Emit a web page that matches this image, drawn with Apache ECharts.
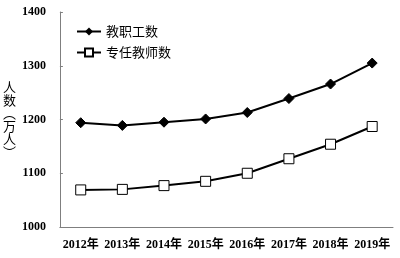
<!DOCTYPE html>
<html>
<head>
<meta charset="utf-8">
<script src="https://cdn.jsdelivr.net/npm/echarts@6/dist/echarts.min.js"></script>
<style>html,body{margin:0;padding:0;background:#fff;}#c{width:400px;height:258px;}</style>
</head>
<body>
<div id="c"></div>
<script>
var categories = ['2012年','2013年','2014年','2015年','2016年','2017年','2018年','2019年'];
var staff = [1194, 1189, 1195, 1201, 1213, 1239, 1266, 1305];
var teachers = [1069, 1070, 1077, 1085, 1100, 1127, 1154, 1187];
var seriesNames = ['教职工数', '专任教师数'];
var yTicks = {min: 1000, max: 1400, interval: 100};
var yName = '人\n数\n︵\n万\n人\n︶';

var serif = '"Liberation Serif","Noto Sans CJK SC",serif';
var chart = echarts.init(document.getElementById('c'), null, {renderer: 'canvas'});
chart.setOption({
  animation: false,
  backgroundColor: '#fff',
  grid: {left: 54, right: 7, top: 12, bottom: 31},
  legend: {
    orient: 'vertical', left: 71, top: 20, itemGap: 8,
    itemWidth: 24, itemHeight: 10,
    textStyle: {fontFamily: '"Noto Sans CJK SC",sans-serif', fontSize: 13, color: '#000'},
    data: seriesNames
  },
  xAxis: {
    type: 'category', data: categories, boundaryGap: true,
    axisLine: {lineStyle: {color: '#7f7f7f', width: 1}},
    axisTick: {inside: true, length: 4, lineStyle: {color: '#7f7f7f'}},
    axisLabel: {interval: 0, fontFamily: serif, fontWeight: 'bold', fontSize: 12, color: '#000', margin: 12}
  },
  yAxis: {
    type: 'value', min: yTicks.min, max: yTicks.max, interval: yTicks.interval,
    name: yName, nameLocation: 'middle', nameRotate: 0, nameGap: 35,
    nameTextStyle: {fontFamily: '"Noto Sans CJK SC",sans-serif', fontSize: 13, color: '#000', lineHeight: 13},
    axisLine: {show: true, lineStyle: {color: '#7f7f7f', width: 1}},
    axisTick: {show: true, inside: true, length: 3, lineStyle: {color: '#7f7f7f'}},
    splitLine: {show: false},
    axisLabel: {formatter: function (v) { return String(v); }, fontFamily: serif, fontWeight: 'bold', fontSize: 12, color: '#000', margin: 14}
  },
  series: [
    {
      name: seriesNames[0], type: 'line', data: staff,
      symbol: 'diamond', symbolSize: 10,
      lineStyle: {color: '#000', width: 2},
      itemStyle: {color: '#000', borderColor: '#000'}
    },
    {
      name: seriesNames[1], type: 'line', data: teachers,
      symbol: 'rect', symbolSize: 10,
      lineStyle: {color: '#000', width: 2},
      itemStyle: {color: '#fff', borderColor: '#000', borderWidth: 1}
    }
  ]
});
</script>
</body>
</html>
